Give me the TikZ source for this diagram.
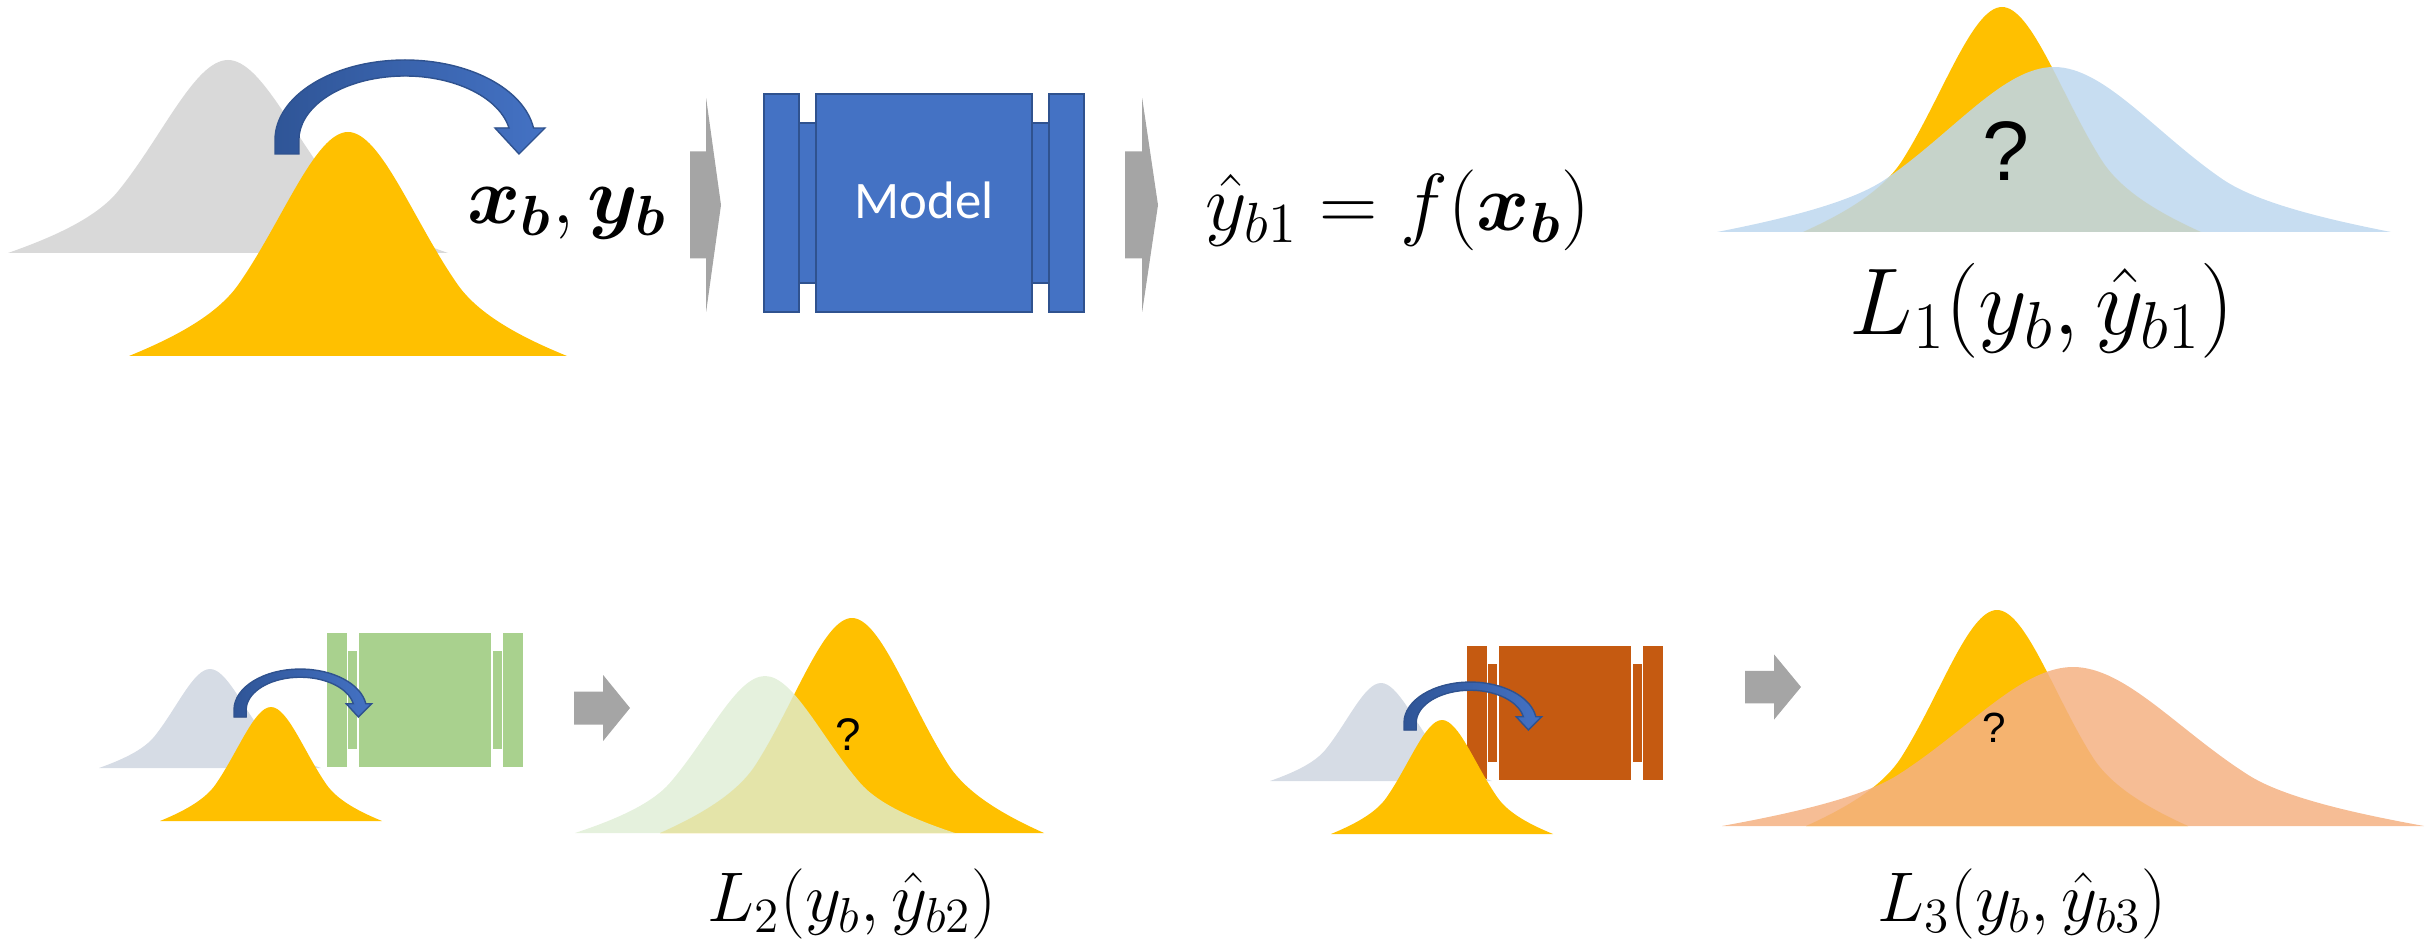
\RequirePackage{fix-cm}
\documentclass[tikz,border=0pt]{standalone}
\usepackage{amsmath}
\usepackage{fontspec}
\usepackage{tikz}
\newfontfamily\modelfont{Carlito}
\newfontfamily\qfont{Liberation Sans}
\definecolor{bellgray}{RGB}{217,217,217}
\definecolor{bellslate}{RGB}{214,220,229}
\definecolor{bellyellow}{RGB}{255,192,0}
\definecolor{predblue}{RGB}{189,215,238}
\definecolor{predgreen}{RGB}{222,237,212}
\definecolor{predorange}{RGB}{244,177,131}
\definecolor{modelblue}{RGB}{68,114,196}
\definecolor{modeledge}{RGB}{47,82,143}
\definecolor{modelgreen}{RGB}{169,209,142}
\definecolor{modelorange}{RGB}{197,90,17}
\definecolor{arrowgray}{RGB}{165,165,165}
\definecolor{benddark}{RGB}{47,85,151}
\tikzset{
  pics/bell/.style={code={
    \fill[pic actions] (-1,0) .. controls (-0.8,-0.08) and (-0.6,-0.18) .. (-0.5,-0.32)
      .. controls (-0.3,-0.6) and (-0.15,-1) .. (0,-1)
      .. controls (0.15,-1) and (0.3,-0.6) .. (0.5,-0.32)
      .. controls (0.6,-0.18) and (0.8,-0.08) .. (1,0) -- cycle;}},
  pics/bendarrow/.style={code={
    \filldraw[left color=benddark,right color=modelblue,draw=modeledge,line width=0.4pt]
      (0,0) -- (0,-14) arc (180:351.4:130 and 80) -- (270,-26) -- (244,0) -- (220,-26)
      -- (234,-26) arc (349.2:180:106 and 64) -- (24,0) -- cycle;}},
  pics/unit/.style={code={
    \filldraw[pic actions] (-125,-80) rectangle (-108,80);
    \filldraw[pic actions] (108,-80) rectangle (125,80);
    \filldraw[pic actions] (-160,-109) rectangle (-125,109);
    \filldraw[pic actions] (125,-109) rectangle (160,109);
    \filldraw[pic actions] (-108,-109) rectangle (108,109);}},
  pics/pointer/.style={code={
    \fill[arrowgray] (0,-0.25) -- (0.52,-0.25) -- (0.52,-0.5) -- (1,0) -- (0.52,0.5)
      -- (0.52,0.25) -- (0,0.25) -- cycle;}},
  mathlabel/.style={inner sep=0pt,font=\fontsize{#1}{#1}\selectfont},
  qmark/.style={inner sep=0pt,font=\qfont\fontsize{#1}{#1}\selectfont}
}
\begin{document}
\begin{tikzpicture}[x=0.01cm,y=-0.01cm]
\useasboundingbox (0,0) rectangle (2427,946);
\pic (graytop) at (228,253) [fill=bellgray,xscale=220,yscale=193] {bell};
\pic (yellowtop) at (348,356) [fill=bellyellow,xscale=219,yscale=224] {bell};
\pic (bendtop) at (275,154) {bendarrow};
\node[mathlabel=23] (xylabel) at (567,213) {$\boldsymbol{x_b},\boldsymbol{y_b}$};
\pic (pointerin) at (690,205) [xscale=31,yscale=214] {pointer};
\pic (unittop) at (924,203) [fill=modelblue,draw=modeledge,line width=0.5pt] {unit};
\node[text=white,font=\modelfont\fontsize{15}{15}\selectfont] (modeltext) at (924,200) {Model};
\pic (pointerout) at (1125,205) [xscale=33,yscale=214] {pointer};
\node[mathlabel=23] (yhatlabel) at (1398,210) {$\hat{y}_{b1} = f(\boldsymbol{x_b})$};
\pic (targettop) at (2002,232) [fill=bellyellow,xscale=199,yscale=225] {bell};
\pic (predtop) at (2054,232) [fill=predblue,fill opacity=0.85,xscale=337,yscale=165] {bell};
\node[qmark=24] (qtop) at (2006,151) {?};
\node[mathlabel=27] (losstop) at (2042,311) {$L_1(y_b,\hat{y}_{b1})$};

\pic (unitgreen) at (425,700) [fill=modelgreen,draw=white,line width=0.5pt,scale=0.62] {unit};
\pic (slateleft) at (210,768) [fill=bellslate,xscale=111,yscale=99] {bell};
\pic (yellowleft) at (271,821) [fill=bellyellow,xscale=111,yscale=114] {bell};
\pic (bendleft) at (234,717) [scale=0.51] {bendarrow};
\pic (pointergreen) at (574,708) [xscale=56,yscale=66] {pointer};
\pic (targetmid) at (852,833) [fill=bellyellow,xscale=192,yscale=215] {bell};
\pic (predmid) at (765,833) [fill=predgreen,fill opacity=0.8,xscale=190,yscale=157] {bell};
\node[qmark=13] (qmid) at (848,735) {?};
\node[mathlabel=20] (lossmid) at (852,904) {$L_2(y_b,\hat{y}_{b2})$};

\pic (unitorange) at (1565,713) [fill=modelorange,draw=white,line width=0.5pt,scale=0.62] {unit};
\pic (slateright) at (1381,781) [fill=bellslate,xscale=111,yscale=98] {bell};
\pic (yellowright) at (1442,834) [fill=bellyellow,xscale=111,yscale=114] {bell};
\pic (bendright) at (1404,730) [scale=0.51] {bendarrow};
\pic (pointerorange) at (1745,687) [xscale=56,yscale=65] {pointer};
\pic (targetright) at (1997,826) [fill=bellyellow,xscale=191,yscale=216] {bell};
\pic (predright) at (2073,826) [fill=predorange,fill opacity=0.85,xscale=351,yscale=159] {bell};
\node[qmark=12] (qright) at (1994,728) {?};
\node[mathlabel=20] (lossright) at (2022,904) {$L_3(y_b,\hat{y}_{b3})$};
\end{tikzpicture}
\end{document}
